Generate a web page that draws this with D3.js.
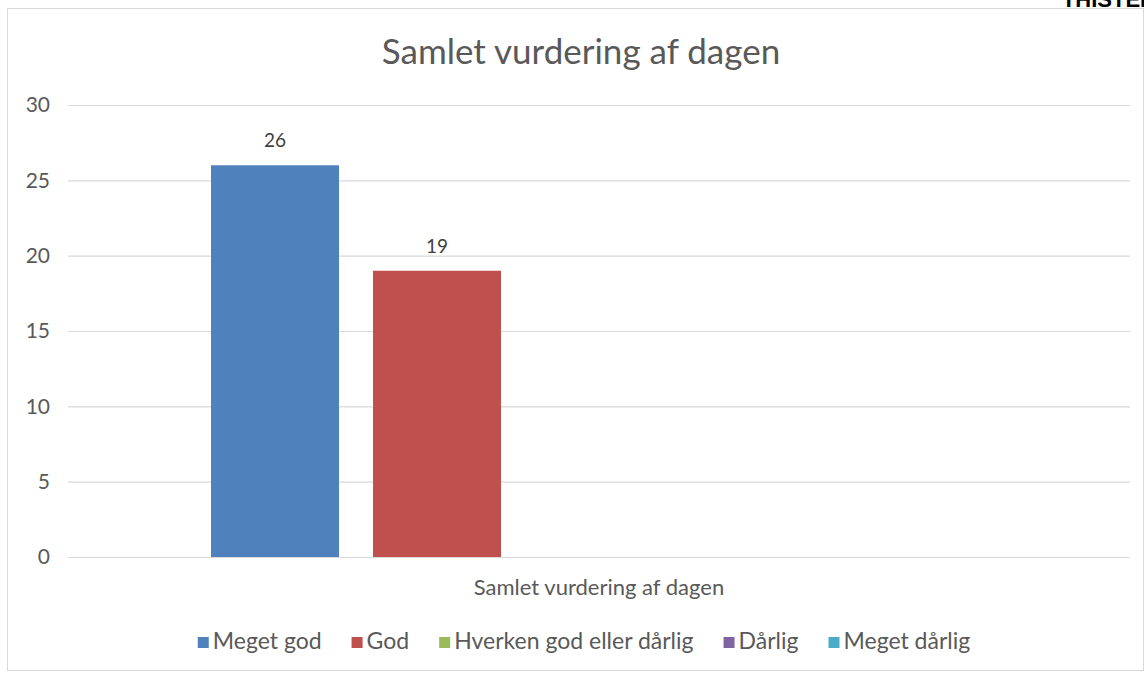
<!DOCTYPE html>
<html>
<head>
<meta charset="utf-8">
<script src="https://cdn.jsdelivr.net/npm/d3@7"></script>
<style>
  body { margin: 0; background: #fff; }
  text { font-family: Lato, "Open Sans", sans-serif; fill: #595959; }
</style>
</head>
<body>
<div id="chart"></div>
<script>
// Data
var categories = ["Samlet vurdering af dagen"];
var seriesNames = ["Meget god", "God", "Hverken god eller dårlig", "Dårlig", "Meget dårlig"];
var seriesValues = [26, 19, 0, 0, 0];
var seriesColors = ["#4F81BD", "#C0504D", "#9BBB59", "#8064A2", "#4BACC6"];
var yTicks = [0, 5, 10, 15, 20, 25, 30];
var title = "Samlet vurdering af dagen";

// Chart setup
var svgWidth = 1144;
var svgHeight = 675;
var plot = { left: 68, right: 1130, top: 105, bottom: 557 };

var svg = d3.select("#chart").append("svg")
    .attr("width", svgWidth)
    .attr("height", svgHeight);

// chart border
svg.append("rect")
    .attr("x", 7.5).attr("y", 8.5)
    .attr("width", 1136).attr("height", 662)
    .attr("fill", "none")
    .attr("stroke", "#d9d9d9");

// stray heading cut off at the top
svg.append("text")
    .attr("x", 1156).attr("y", 7)
    .attr("text-anchor", "end")
    .style("font-family", "'Liberation Sans Narrow', 'Liberation Sans', sans-serif")
    .style("font-weight", "bold")
    .style("font-size", "22px")
    .style("fill", "#000")
    .text("THISTED");

// Scales
var x0 = d3.scaleBand()
    .domain(categories)
    .range([plot.left, plot.right])
    .paddingInner(0)
    .paddingOuter(0.1843);

var x1 = d3.scaleBand()
    .domain(seriesNames)
    .range([0, x0.bandwidth()])
    .paddingInner(0.21)
    .paddingOuter(0);

var y = d3.scaleLinear()
    .domain([0, 30])
    .range([plot.bottom, plot.top]);

// Gridlines + y labels
var yAxis = d3.axisLeft(y)
    .tickValues(yTicks)
    .tickSize(-(plot.right - plot.left))
    .tickPadding(18);

var yG = svg.append("g")
    .attr("transform", `translate(${plot.left},0)`)
    .call(yAxis);
yG.select(".domain").remove();
yG.selectAll("line").attr("stroke", "#d9d9d9").attr("stroke-width", 1.2);
yG.selectAll("text")
    .attr("fill", "#595959")
    .style("font-size", "21px")
    .style("font-family", "Lato, sans-serif");

// Bars
var rows = seriesNames.map(function(s, i) {
    return { cat: categories[0], name: s, value: seriesValues[i], color: seriesColors[i] };
});

var barG = svg.append("g");
barG.selectAll("rect")
    .data(rows)
    .enter()
    .append("rect")
    .attr("x", d => x0(d.cat) + x1(d.name))
    .attr("y", d => y(d.value))
    .attr("width", x1.bandwidth())
    .attr("height", d => y(0) - y(d.value))
    .attr("fill", d => d.color);

// Data labels (only non-zero bars show labels)
barG.selectAll("text")
    .data(rows.filter(d => d.value > 0))
    .enter()
    .append("text")
    .attr("x", d => x0(d.cat) + x1(d.name) + x1.bandwidth() / 2)
    .attr("y", d => y(d.value) - 18)
    .attr("text-anchor", "middle")
    .style("font-size", "19px")
    .style("fill", "#404040")
    .text(d => d.value);

// Category label
svg.selectAll(".catLabel")
    .data(categories)
    .enter()
    .append("text")
    .attr("class", "catLabel")
    .attr("x", d => x0(d) + x0.bandwidth() / 2)
    .attr("y", plot.bottom + 38)
    .attr("text-anchor", "middle")
    .style("font-size", "22px")
    .text(d => d);

// Title
svg.append("text")
    .attr("x", (plot.left + plot.right) / 2 - 18)
    .attr("y", 64)
    .attr("text-anchor", "middle")
    .style("font-size", "35px")
    .text(title);

// Legend
var legendG = svg.append("g");
var items = legendG.selectAll("g")
    .data(rows)
    .enter()
    .append("g");

items.append("rect")
    .attr("width", 11).attr("height", 11)
    .attr("y", -12)
    .attr("fill", d => d.color);

items.append("text")
    .attr("x", 15)
    .attr("y", 0)
    .style("font-size", "23px")
    .text(d => d.name);

var gap = 30;
var pos = 0;
var starts = [];
items.each(function() {
    starts.push(pos);
    pos += this.getBBox().width + gap;
});
var total = pos - gap;
var legendX = 584 - total / 2;
items.attr("transform", (d, i) => `translate(${legendX + starts[i]},649)`);
</script>
</body>
</html>
